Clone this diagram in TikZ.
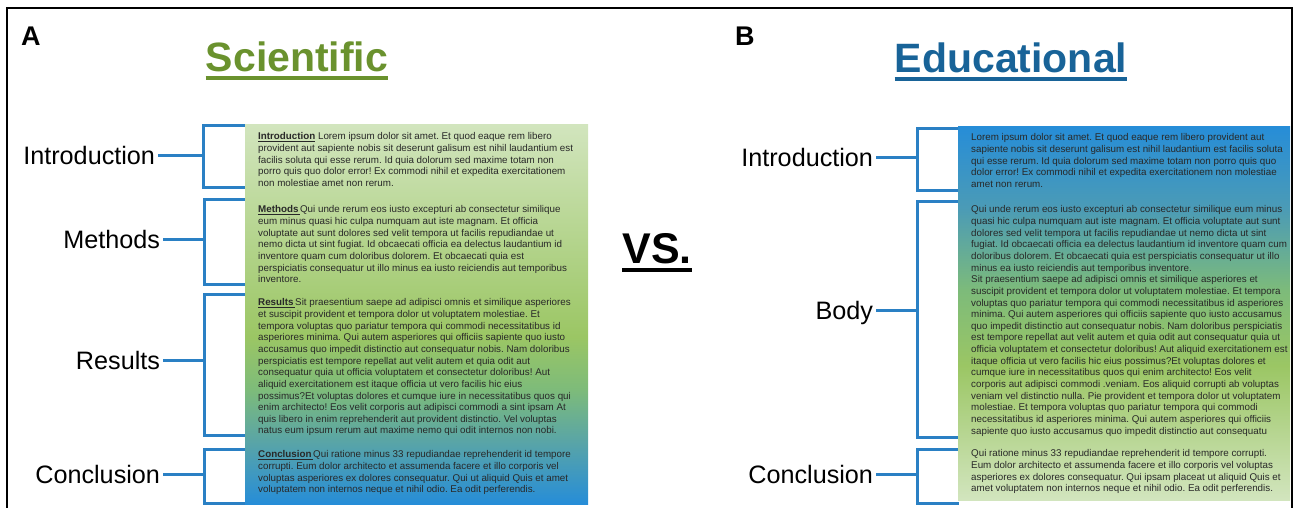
\documentclass[tikz,border=0pt]{standalone}
\usepackage{fontspec}
\setmainfont{Liberation Sans}
\usetikzlibrary{positioning,calc}

\definecolor{sciGreen}{RGB}{106,146,46}
\definecolor{eduBlue}{RGB}{24,99,152}
\definecolor{brkBlue}{RGB}{42,128,196}
\definecolor{txtGray}{RGB}{40,40,40}
\definecolor{shLight}{RGB}{210,229,190}
\definecolor{shGreen}{RGB}{155,198,100}
\definecolor{shMid}{RGB}{125,187,122}
\definecolor{shTeal}{RGB}{88,164,168}
\definecolor{shSea}{RGB}{75,155,182}
\definecolor{shBlue}{RGB}{38,141,216}

\pgfdeclareverticalshading{sciShade}{100bp}{color(0bp)=(shBlue); color(25bp)=(shBlue); color(33bp)=(shTeal); color(40bp)=(shMid); color(47bp)=(shGreen); color(75bp)=(shLight); color(100bp)=(shLight)}
\pgfdeclareverticalshading{eduShade}{100bp}{color(0bp)=(shLight); color(25bp)=(shLight); color(43bp)=(shGreen); color(53bp)=(shMid); color(64bp)=(shSea); color(75bp)=(shBlue); color(100bp)=(shBlue)}

\tikzset{
  sectlabel/.style={font=\fontsize{25.2}{28}\selectfont, anchor=base east, inner sep=0pt, outer sep=3pt, text height=18pt, text depth=0pt},
  bracket/.style={draw=brkBlue, line width=3pt},
  para/.style={font=\fontsize{9.8}{11.65}\selectfont\frenchspacing, text=txtGray, align=left, anchor=north west, inner sep=0pt},
  heading/.style={font=\fontsize{41}{45}\selectfont\bfseries, inner sep=0pt, anchor=base},
  panel/.style={font=\fontsize{27}{28}\selectfont\bfseries, inner sep=0pt, anchor=base west}
}

\begin{document}
\begin{tikzpicture}[x=1pt,y=-1pt]
  \useasboundingbox (0,0) rectangle (1297,508);
  % frame
  \draw[line width=2pt] (7,512) -- (7,8) -- (1292,8) -- (1292,512);

  % panel letters
  \node[panel] (pA) at (21,46) {A};
  \node[panel] (pB) at (735,46) {B};

  % titles
  \node[heading, text=sciGreen] (sciTitle) at (297,72) {Scientific};
  \draw[sciGreen, line width=4pt] ([yshift=-6pt]sciTitle.base west) -- ([yshift=-6pt]sciTitle.base east);
  \node[heading, text=eduBlue] (eduTitle) at (1011,73) {Educational};
  \draw[eduBlue, line width=4pt] ([yshift=-6pt]eduTitle.base west) -- ([yshift=-6pt]eduTitle.base east);
  \node[heading, font=\fontsize{43}{46}\selectfont\bfseries] (vs) at (657,263) {VS.};
  \draw[line width=4pt] ([yshift=-7pt]vs.base west) -- ([yshift=-7pt]vs.base east);

  % left brackets
  \draw[bracket] (246,125) -- (203,125) -- (203,187) -- (246,187);
  \draw[bracket] (246,199) -- (204,199) -- (204,284) -- (246,284);
  \draw[bracket] (246,294) -- (204,294) -- (204,435) -- (246,435);
  \draw[bracket] (246,449) -- (204,449) -- (204,503) -- (246,503);
  \coordinate (bIntroL) at (203,155);
  \coordinate (bMethL) at (204,239);
  \coordinate (bResL) at (204,360);
  \coordinate (bConcL) at (204,474);
  \node[sectlabel] (lIntroL) at (158,164) {Introduction};
  \node[sectlabel] (lMeth) at (163,248) {Methods};
  \node[sectlabel] (lRes) at (163,369) {Results};
  \node[sectlabel] (lConcL) at (163,483) {Conclusion};
  \draw[bracket] (lIntroL) -- (bIntroL);
  \draw[bracket] (lMeth) -- (bMethL);
  \draw[bracket] (lRes) -- (bResL);
  \draw[bracket] (lConcL) -- (bConcL);

  % right brackets
  \draw[bracket] (959,128) -- (917,128) -- (917,190) -- (959,190);
  \draw[bracket] (959,201) -- (917,201) -- (917,437) -- (959,437);
  \draw[bracket] (959,449) -- (917,449) -- (917,503) -- (959,503);
  \coordinate (bIntroR) at (917,157);
  \coordinate (bBody) at (917,310);
  \coordinate (bConcR) at (917,474);
  \node[sectlabel] (lIntroR) at (876,166) {Introduction};
  \node[sectlabel] (lBody) at (876,319) {Body};
  \node[sectlabel] (lConcR) at (876,483) {Conclusion};
  \draw[bracket] (lIntroR) -- (bIntroR);
  \draw[bracket] (lBody) -- (bBody);
  \draw[bracket] (lConcR) -- (bConcR);

  % scientific text block
  \shade[shading=sciShade] (245,124) rectangle (588,504);
  \node[para] (sIntro) at (258,132.5) {\underline{\textbf{Introduction}} Lorem ipsum dolor sit amet. Et quod eaque rem libero\\
provident aut sapiente nobis sit deserunt galisum est nihil laudantium est\\
facilis soluta qui esse rerum. Id quia dolorum sed maxime totam non\\
porro quis quo dolor error! Ex commodi nihil et expedita exercitationem\\
non molestiae amet non rerum.};
  \node[para] (sMeth) at (258,205.5) {\underline{\textbf{Methods}\,}Qui unde rerum eos iusto excepturi ab consectetur similique\\
eum minus quasi hic culpa numquam aut iste magnam. Et officia\\
voluptate aut sunt dolores sed velit tempora ut facilis repudiandae ut\\
nemo dicta ut sint fugiat. Id obcaecati officia ea delectus laudantium id\\
inventore quam cum doloribus dolorem. Et obcaecati quia est\\
perspiciatis consequatur ut illo minus ea iusto reiciendis aut temporibus\\
inventore.};
  \node[para] (sRes) at (258,298.5) {\underline{\textbf{Results}\,}Sit praesentium saepe ad adipisci omnis et similique asperiores\\
et suscipit provident et tempora dolor ut voluptatem molestiae. Et\\
tempora voluptas quo pariatur tempora qui commodi necessitatibus id\\
asperiores minima. Qui autem asperiores qui officiis sapiente quo iusto\\
accusamus quo impedit distinctio aut consequatur nobis. Nam doloribus\\
perspiciatis est tempore repellat aut velit autem et quia odit aut\\
consequatur quia ut officia voluptatem et consectetur doloribus! Aut\\
aliquid exercitationem est itaque officia ut vero facilis hic eius\\
possimus?Et voluptas dolores et cumque iure in necessitatibus quos qui\\
enim architecto! Eos velit corporis aut adipisci commodi a sint ipsam At\\
quis libero in enim reprehenderit aut provident distinctio. Vel voluptas\\
natus eum ipsum rerum aut maxime nemo qui odit internos non nobi.};
  \node[para] (sConc) at (258,450.5) {\underline{\textbf{Conclusion}\,}Qui ratione minus 33 repudiandae reprehenderit id tempore\\
corrupti. Eum dolor architecto et assumenda facere et illo corporis vel\\
voluptas asperiores ex dolores consequatur. Qui ut aliquid Quis et amet\\
voluptatem non internos neque et nihil odio. Ea odit perferendis.};

  % educational text block
  \shade[shading=eduShade] (958,126) rectangle (1290,500);
  \node[para] (eIntro) at (971,133.5) {Lorem ipsum dolor sit amet. Et quod eaque rem libero provident aut\\
sapiente nobis sit deserunt galisum est nihil laudantium est facilis soluta\\
qui esse rerum. Id quia dolorum sed maxime totam non porro quis quo\\
dolor error! Ex commodi nihil et expedita exercitationem non molestiae\\
amet non rerum.};
  \node[para] (eBody) at (971,205.5) {Qui unde rerum eos iusto excepturi ab consectetur similique eum minus\\
quasi hic culpa numquam aut iste magnam. Et officia voluptate aut sunt\\
dolores sed velit tempora ut facilis repudiandae ut nemo dicta ut sint\\
fugiat. Id obcaecati officia ea delectus laudantium id inventore quam cum\\
doloribus dolorem. Et obcaecati quia est perspiciatis consequatur ut illo\\
minus ea iusto reiciendis aut temporibus inventore.\\
Sit praesentium saepe ad adipisci omnis et similique asperiores et\\
suscipit provident et tempora dolor ut voluptatem molestiae. Et tempora\\
voluptas quo pariatur tempora qui commodi necessitatibus id asperiores\\
minima. Qui autem asperiores qui officiis sapiente quo iusto accusamus\\
quo impedit distinctio aut consequatur nobis. Nam doloribus perspiciatis\\
est tempore repellat aut velit autem et quia odit aut consequatur quia ut\\
officia voluptatem et consectetur doloribus! Aut aliquid exercitationem est\\
itaque officia ut vero facilis hic eius possimus?Et voluptas dolores et\\
cumque iure in necessitatibus quos qui enim architecto! Eos velit\\
corporis aut adipisci commodi .veniam. Eos aliquid corrupti ab voluptas\\
veniam vel distinctio nulla. Pie provident et tempora dolor ut voluptatem\\
molestiae. Et tempora voluptas quo pariatur tempora qui commodi\\
necessitatibus id asperiores minima. Qui autem asperiores qui officiis\\
sapiente quo iusto accusamus quo impedit distinctio aut consequatu};
  \node[para] (eConc) at (971,449.5) {Qui ratione minus 33 repudiandae reprehenderit id tempore corrupti.\\
Eum dolor architecto et assumenda facere et illo corporis vel voluptas\\
asperiores ex dolores consequatur. Qui ipsam placeat ut aliquid Quis et\\
amet voluptatem non internos neque et nihil odio. Ea odit perferendis.};
\end{tikzpicture}
\end{document}
